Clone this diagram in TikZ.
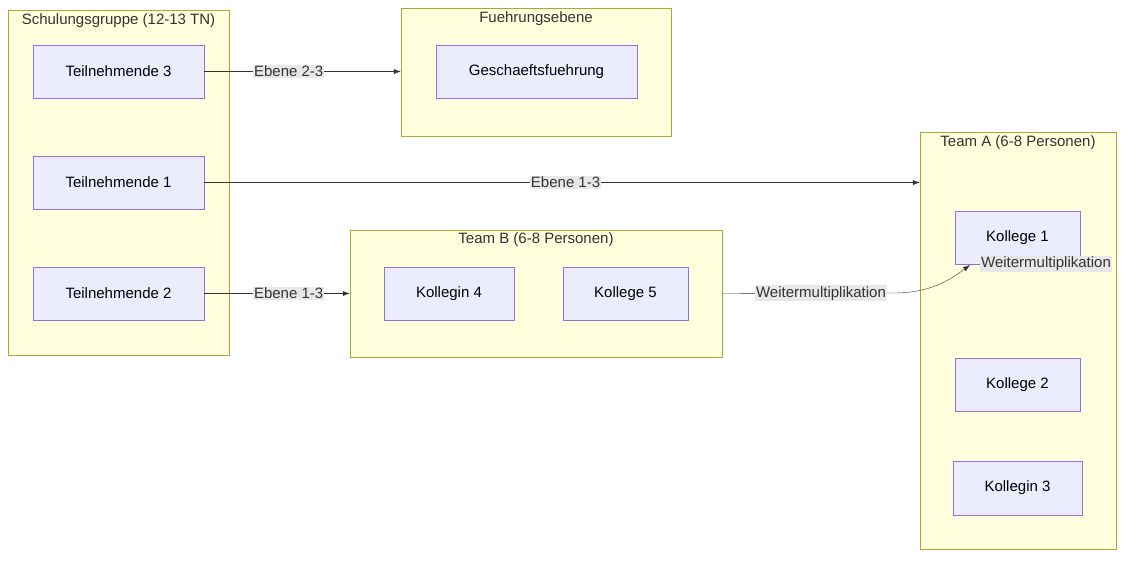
\documentclass[tikz,border=0pt]{standalone}
\usepackage{fontspec}
\usetikzlibrary{arrows.meta}
\setmainfont{Liberation Sans}
\definecolor{clfill}{HTML}{FFFFDE}
\definecolor{cldraw}{HTML}{AAAA33}
\definecolor{ndfill}{HTML}{ECECFF}
\definecolor{nddraw}{HTML}{9370DB}
\definecolor{lbfill}{HTML}{E8E8E8}
\begin{document}
\begin{tikzpicture}[x=1pt,y=-1pt,
   cluster/.style={draw=cldraw,fill=clfill,inner sep=0pt},
   box/.style={draw=nddraw,fill=ndfill,inner sep=0pt,font=\fontsize{15}{17}\selectfont},
   title/.style={font=\fontsize{15}{17}\selectfont,text=black!80},
   lbl/.style={fill=lbfill,inner sep=1pt,font=\fontsize{15}{17}\selectfont,text=black!80},
   edge/.style={draw=black!80,-{Latex[length=7pt,width=5pt]}}]
   \useasboundingbox (0,0) rectangle (1136,562);
   % clusters: name/x1/y1/x2/y2/title/title y
   \foreach \n/\xa/\ya/\xb/\yb/\t/\ty in {schulung/8/10/229/355/{Schulungsgruppe (12-13 TN)}/21,fuehrung/401/8/671/136/Fuehrungsebene/19,teamA/920/132/1116/549/{Team A (6-8 Personen)}/143,teamB/350/230/722/357/{Team B (6-8 Personen)}/240}
      {\node[cluster,minimum width={\xb-\xa},minimum height={\yb-\ya}] (\n) at ({(\xa+\xb)/2},{(\ya+\yb)/2}) {};
       \node[title] (\n-t) at ({(\xa+\xb)/2},\ty) {\t};}
   % nodes: name/x1/y1/x2/y2/text
   \foreach \n/\xa/\ya/\xb/\yb/\t in {tn3/33/45/204/98/Teilnehmende 3,tn1/33/156/204/209/Teilnehmende 1,tn2/33/267/204/320/Teilnehmende 2,gf/436/45/637/98/Geschaeftsfuehrung,k1/955/211/1080/264/Kollege 1,k2/955/358/1080/411/Kollege 2,k3/953/461/1082/515/Kollegin 3,k4/384/267/514/320/Kollegin 4,k5/563/267/688/320/Kollege 5}
      \node[box,minimum width={\xb-\xa},minimum height={\yb-\ya}] (\n) at ({(\xa+\xb)/2},{(\ya+\yb)/2}) {\t};
   \coordinate (bend) at (894,293);
   \coordinate (k1in) at (970,265);
   \draw[edge] (tn3) -- node[lbl,pos=0.43]{Ebene 2-3} (tn3 -| fuehrung.west);
   \draw[edge] (tn1) -- node[lbl,pos=0.505]{Ebene 1-3} (tn1 -| teamA.west);
   \draw[edge] (tn2) -- node[lbl,pos=0.58]{Ebene 1-3} (teamB.west);
   \draw[edge] (teamB.east) -- node[lbl,pos=0.575]{Weitermultiplikation} (bend)
      .. controls (930,293) and (950,280) .. (k1in);
   \node[lbl] (wm2) at (1046,264) {Weitermultiplikation};
\end{tikzpicture}
\end{document}
